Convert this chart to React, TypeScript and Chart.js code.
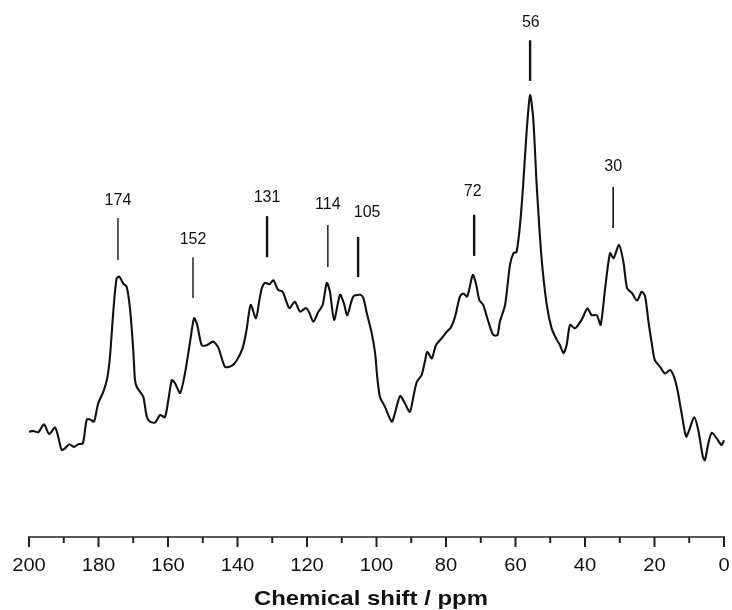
import { useEffect, useRef } from 'react';
import { Chart, registerables } from 'chart.js';

Chart.register(...registerables);

const FONT = "'Liberation Sans', Arial, Helvetica, sans-serif";

// Chemical shift (ppm) of the traced spectrum points
const shiftPpm = [
  200.0, 198.8, 197.3, 195.7, 194.2, 192.5, 191.6, 190.6, 189.6, 188.4,
  187.1, 185.8, 184.5, 183.4, 182.4, 181.3, 180.1, 178.6, 177.5, 176.7,
  175.7, 174.8, 174.0, 172.9, 171.9, 170.9, 170.0, 169.5, 169.0, 168.1,
  167.1, 166.1, 165.2, 163.7, 162.3, 160.9, 159.9, 158.9, 158.0, 156.5,
  155.1, 153.7, 152.5, 151.6, 150.3, 148.9, 147.0, 145.5, 143.6, 141.7,
  140.2, 138.5, 137.4, 136.2, 134.7, 133.7, 133.0, 132.1, 130.8, 129.7,
  128.3, 127.0, 125.1, 123.5, 122.0, 120.3, 119.3, 118.2, 116.7, 115.5,
  114.3, 113.4, 112.2, 110.5, 109.4, 108.4, 106.7, 104.7, 103.8, 102.8,
  101.4, 100.4, 99.8, 99.0, 97.6, 95.6, 94.7, 93.2, 91.8, 90.4,
  89.4, 88.4, 87.0, 86.0, 85.4, 84.1, 82.9, 81.2, 79.8, 78.6,
  77.4, 76.0, 75.0, 73.9, 72.3, 71.4, 70.4, 69.3, 67.8, 66.4,
  65.2, 64.5, 63.0, 61.6, 60.6, 59.7, 58.7, 57.8, 56.8, 55.8,
  54.9, 53.9, 52.5, 51.0, 49.6, 48.1, 47.2, 46.2, 45.3, 44.3,
  42.9, 41.0, 39.3, 38.1, 36.6, 35.5, 34.2, 32.8, 31.8, 30.2,
  28.9, 27.9, 26.5, 25.0, 23.7, 22.7, 21.8, 20.8, 19.9, 18.4,
  17.0, 15.5, 14.4, 13.4, 12.2, 10.9, 10.0, 8.6, 7.4, 6.1,
  5.5, 4.5, 3.5, 2.1, 0.7, 0.0,
];

// Relative intensity (a.u., strongest peak = 100)
const intensity = [
  23.8, 24.0, 23.7, 25.5, 23.3, 24.8, 22.7, 19.7, 20.1, 21.0,
  20.4, 21.0, 21.2, 26.5, 26.6, 26.1, 30.2, 32.9, 35.9, 40.8,
  51.4, 58.5, 58.9, 57.4, 56.6, 51.4, 42.3, 35.5, 34.0, 32.9,
  31.7, 27.2, 26.1, 25.9, 27.6, 27.1, 31.0, 35.5, 34.8, 32.6,
  37.1, 43.9, 49.5, 48.0, 43.4, 43.4, 44.2, 42.8, 38.5, 38.7,
  40.0, 42.8, 46.8, 52.5, 49.5, 53.6, 56.3, 57.5, 57.2, 58.1,
  55.9, 55.5, 51.8, 53.2, 51.0, 51.8, 50.7, 48.7, 51.0, 52.5,
  57.5, 55.5, 49.1, 54.8, 52.9, 50.2, 54.4, 54.8, 54.1, 50.7,
  46.2, 41.6, 36.3, 31.7, 29.5, 26.1, 28.0, 31.9, 30.2, 28.3,
  31.7, 35.1, 36.7, 40.0, 41.9, 40.4, 43.4, 45.0, 46.4, 47.4,
  49.8, 54.4, 55.1, 54.4, 59.3, 57.4, 53.6, 52.5, 48.7, 45.7,
  45.7, 48.7, 52.5, 61.5, 64.2, 64.5, 70.6, 79.6, 91.7, 100.0,
  94.7, 79.6, 63.1, 52.5, 47.2, 44.6, 43.4, 41.6, 43.4, 48.0,
  47.2, 49.1, 51.7, 50.2, 50.2, 48.0, 56.3, 64.2, 63.1, 66.1,
  62.0, 56.3, 55.2, 53.5, 55.5, 54.4, 49.1, 43.9, 40.0, 38.5,
  37.0, 37.8, 36.3, 33.3, 28.0, 22.7, 24.2, 27.1, 24.2, 18.2,
  17.4, 21.2, 23.6, 22.3, 20.8, 21.9,
];

// Peak annotations
const peakLabels = ['174', '152', '131', '114', '105', '72', '56', '30'];
const markerPpm = [174.4, 152.8, 131.5, 114.0, 105.3, 71.9, 55.8, 31.9];
const labelPpm = [174.4, 152.8, 131.5, 114.0, 102.7, 72.3, 55.6, 31.9];
const labelLevel = [76.2, 67.4, 76.9, 75.3, 73.3, 78.1, 116.5, 83.7];
const markerTop = [72.2, 63.3, 72.6, 70.6, 67.9, 72.9, 112.4, 79.2];
const markerBottom = [62.7, 54.1, 63.3, 61.1, 58.8, 63.6, 103.2, 69.9];
const markerWidths = [1.4, 1.4, 2.4, 1.4, 2.4, 2.4, 2.4, 1.6];

// Axis ticks and title
const majorTicks = [0, 20, 40, 60, 80, 100, 120, 140, 160, 180, 200];
const minorTicks = [10, 30, 50, 70, 90, 110, 130, 150, 170, 190];
const axisTitle = 'Chemical shift / ppm';
const titleCenterPpm = 101.6;
const X_MIN = 0;
const X_MAX = 200;
const Y_MIN = 0;
const Y_MAX = 121.5;

function stretchedText(ctx: CanvasRenderingContext2D, text: string, cx: number, baseY: number, sx: number) {
  ctx.save();
  ctx.translate(cx, baseY);
  ctx.scale(sx, 1);
  ctx.textAlign = 'center';
  ctx.textBaseline = 'alphabetic';
  ctx.fillText(text, 0, 0);
  ctx.restore();
}

export default function App() {
  const ref = useRef<HTMLCanvasElement>(null);

  useEffect(() => {
    if (!ref.current) return;

    const peakPlugin = {
      id: 'peakMarks',
      afterDatasetsDraw(chart: any) {
        const { ctx } = chart;
        const x = chart.scales.x;
        const y = chart.scales.y;
        ctx.save();
        ctx.strokeStyle = '#111';
        ctx.fillStyle = '#111';
        ctx.lineCap = 'butt';
        ctx.font = `16px ${FONT}`;
        ctx.textAlign = 'center';
        ctx.textBaseline = 'middle';
        peakLabels.forEach((lab, i) => {
          const px = x.getPixelForValue(markerPpm[i]);
          ctx.lineWidth = markerWidths[i];
          ctx.beginPath();
          ctx.moveTo(px, y.getPixelForValue(markerTop[i]));
          ctx.lineTo(px, y.getPixelForValue(markerBottom[i]));
          ctx.stroke();
          ctx.fillText(lab, x.getPixelForValue(labelPpm[i]), y.getPixelForValue(labelLevel[i]));
        });

        // bottom axis line and tick marks
        const yb = y.getPixelForValue(Y_MIN);
        ctx.lineWidth = 1.6;
        ctx.strokeStyle = '#222';
        ctx.beginPath();
        ctx.moveTo(x.getPixelForValue(X_MAX) - 1, yb);
        ctx.lineTo(x.getPixelForValue(X_MIN) + 1, yb);
        ctx.stroke();
        ctx.lineWidth = 2;
        majorTicks.forEach((v) => {
          const px = x.getPixelForValue(v);
          ctx.beginPath();
          ctx.moveTo(px, yb);
          ctx.lineTo(px, yb + 10);
          ctx.stroke();
        });
        minorTicks.forEach((v) => {
          const px = x.getPixelForValue(v);
          ctx.beginPath();
          ctx.moveTo(px, yb);
          ctx.lineTo(px, yb + 6);
          ctx.stroke();
        });

        // tick labels
        ctx.fillStyle = '#111';
        ctx.font = `18px ${FONT}`;
        majorTicks.forEach((v) => {
          stretchedText(ctx, String(v), x.getPixelForValue(v), yb + 34, 1.12);
        });

        // axis title
        ctx.font = `bold 21px ${FONT}`;
        stretchedText(ctx, axisTitle, x.getPixelForValue(titleCenterPpm), yb + 68, 1.14);
        ctx.restore();
      },
    };

    const points = shiftPpm.map((p, i) => ({ x: p, y: intensity[i] }));

    const chart = new Chart(ref.current, {
      type: 'line',
      data: {
        datasets: [
          {
            data: points,
            borderColor: '#111',
            borderWidth: 2.1,
            pointRadius: 0,
            tension: 0.25,
            fill: false,
            clip: false as any,
          },
        ],
      },
      options: {
        animation: false,
        responsive: false,
        maintainAspectRatio: false,
        devicePixelRatio: 1,
        layout: { padding: { left: 29, right: 8, top: 0, bottom: 0 } },
        plugins: {
          legend: { display: false },
          tooltip: { enabled: false },
          title: { display: false },
        },
        scales: {
          x: {
            type: 'linear',
            reverse: true,
            min: X_MIN,
            max: X_MAX,
            afterFit: (scale: any) => {
              scale.height = 73;
              scale.paddingLeft = 0;
              scale.paddingRight = 0;
            },
            grid: { display: false, drawTicks: false },
            border: { display: false },
            ticks: { display: false },
            title: { display: false },
          },
          y: {
            display: false,
            min: Y_MIN,
            max: Y_MAX,
          },
        },
      },
      plugins: [peakPlugin],
    });

    return () => chart.destroy();
  }, []);

  return (
    <div style={{ position: 'fixed', left: 0, top: 0, width: 732, height: 610, background: '#fff' }}>
      <canvas ref={ref} width={732} height={610} style={{ display: 'block', width: 732, height: 610 }} />
    </div>
  );
}
